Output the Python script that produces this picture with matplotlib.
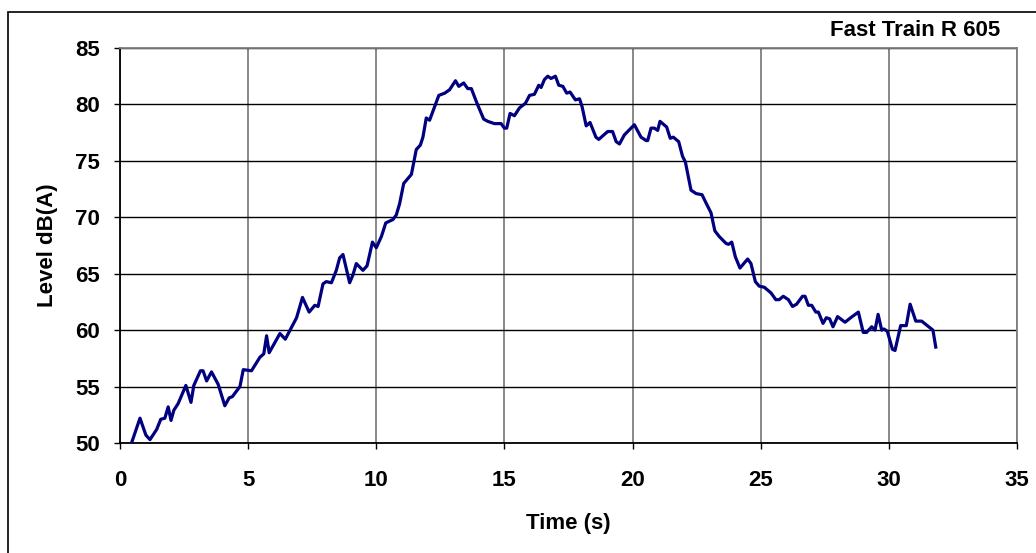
import matplotlib
matplotlib.use("Agg")
import matplotlib.pyplot as plt
from matplotlib.patches import Rectangle

plt.rcParams['font.family'] = ['Liberation Sans', 'DejaVu Sans']

# pass-by level of the fast train, sampled along the recording
time_s = [0.45, 0.78, 1.01, 1.17, 1.43, 1.59, 1.75, 1.88, 1.99, 2.10,
          2.27, 2.57, 2.77, 2.88, 3.14, 3.24, 3.38, 3.57, 3.83, 4.09,
          4.26, 4.38, 4.68, 4.81, 5.13, 5.46, 5.61, 5.72, 5.82, 6.24,
          6.45, 6.89, 7.12, 7.38, 7.60, 7.73, 7.92, 8.05, 8.25, 8.44,
          8.57, 8.70, 8.96, 9.09, 9.22, 9.48, 9.64, 9.85, 10.00, 10.20,
          10.37, 10.65, 10.78, 10.91, 11.07, 11.37, 11.56, 11.72, 11.82, 11.95,
          12.08, 12.31, 12.44, 12.67, 12.86, 13.09, 13.22, 13.41, 13.57, 13.71,
          13.93, 14.19, 14.35, 14.61, 14.87, 15.00, 15.09, 15.22, 15.39, 15.59,
          15.82, 15.98, 16.17, 16.34, 16.43, 16.56, 16.69, 16.82, 16.99, 17.12,
          17.28, 17.43, 17.56, 17.77, 17.93, 18.03, 18.19, 18.34, 18.57, 18.68,
          19.03, 19.22, 19.36, 19.49, 19.68, 20.07, 20.33, 20.53, 20.59, 20.72,
          20.85, 20.98, 21.07, 21.33, 21.47, 21.59, 21.80, 21.95, 22.06, 22.28,
          22.48, 22.71, 22.86, 23.06, 23.21, 23.38, 23.64, 23.74, 23.87, 24.01,
          24.19, 24.49, 24.62, 24.79, 24.94, 25.14, 25.40, 25.59, 25.72, 25.88,
          26.08, 26.24, 26.40, 26.63, 26.73, 26.86, 26.99, 27.15, 27.25, 27.43,
          27.56, 27.69, 27.82, 28.00, 28.29, 28.51, 28.81, 29.00, 29.13, 29.33,
          29.46, 29.58, 29.72, 29.81, 29.94, 30.14, 30.24, 30.46, 30.68, 30.83,
          31.05, 31.28, 31.50, 31.72, 31.83]
level_dba = [50.0, 52.2, 50.7, 50.3, 51.2, 52.1, 52.2, 53.2, 52.0, 52.9,
             53.5, 55.1, 53.6, 55.1, 56.4, 56.4, 55.5, 56.3, 55.2, 53.3,
             54.0, 54.1, 55.0, 56.5, 56.4, 57.6, 57.9, 59.5, 58.0, 59.7,
             59.2, 61.1, 62.9, 61.6, 62.2, 62.1, 64.1, 64.3, 64.2, 65.3,
             66.4, 66.7, 64.2, 64.9, 65.9, 65.3, 65.7, 67.8, 67.3, 68.3,
             69.5, 69.8, 70.2, 71.2, 73.0, 73.8, 76.0, 76.4, 77.1, 78.8,
             78.6, 80.0, 80.8, 81.0, 81.3, 82.1, 81.6, 81.9, 81.4, 81.4,
             80.1, 78.7, 78.5, 78.3, 78.3, 77.9, 77.9, 79.2, 79.0, 79.7,
             80.1, 80.8, 80.9, 81.7, 81.5, 82.2, 82.5, 82.3, 82.5, 81.7,
             81.6, 81.0, 81.1, 80.4, 80.5, 79.8, 78.1, 78.4, 77.1, 76.9,
             77.6, 77.6, 76.7, 76.5, 77.3, 78.2, 77.1, 76.8, 76.8, 77.9,
             77.9, 77.7, 78.5, 78.0, 77.0, 77.1, 76.7, 75.4, 74.9, 72.4,
             72.1, 72.0, 71.3, 70.4, 68.8, 68.3, 67.7, 67.6, 67.8, 66.5,
             65.5, 66.3, 65.9, 64.3, 63.9, 63.8, 63.3, 62.7, 62.7, 63.0,
             62.7, 62.1, 62.3, 63.0, 63.0, 62.2, 62.2, 61.6, 61.6, 60.6,
             61.1, 61.0, 60.3, 61.2, 60.7, 61.1, 61.6, 59.8, 59.8, 60.3,
             60.0, 61.4, 60.0, 60.1, 59.9, 58.3, 58.2, 60.4, 60.4, 62.3,
             60.8, 60.8, 60.4, 60.0, 58.5]

x_ticks = [0, 5, 10, 15, 20, 25, 30, 35]
y_ticks = [50, 55, 60, 65, 70, 75, 80, 85]

fig = plt.figure(figsize=(10.36, 5.53), dpi=100)
ax = fig.add_axes([120 / 1036, 1 - 443 / 553, 897 / 1036, 395 / 553])

ax.plot(time_s, level_dba, color='#000080', lw=2.3, zorder=3)

ax.set_xlim(0, 35)
ax.set_ylim(50, 85)
ax.set_xticks(x_ticks)
ax.set_yticks(y_ticks)

ax.grid(axis='y', color='black', lw=1.0, zorder=1)
ax.grid(axis='x', color='#7f7f7f', lw=1.3, zorder=1)
ax.set_axisbelow(True)

for side in ('top', 'right'):
    ax.spines[side].set_color('#7f7f7f')
    ax.spines[side].set_linewidth(1.3)
for side in ('left', 'bottom'):
    ax.spines[side].set_color('black')
    ax.spines[side].set_linewidth(1.3)

ax.tick_params(axis='both', direction='out', length=4.5, width=1.0,
               labelsize=16)
ax.tick_params(axis='y', pad=10)
ax.tick_params(axis='x', pad=15)
for lbl in ax.get_xticklabels() + ax.get_yticklabels():
    lbl.set_fontweight('bold')

ax.set_xlabel('Time (s)', fontsize=16, fontweight='bold', labelpad=16)
ax.set_ylabel('Level dB(A)', fontsize=16, fontweight='bold', labelpad=12)

fig.text(1000 / 1036, 1 - 31 / 553, 'Fast Train R 605', fontsize=16,
         fontweight='bold', ha='right', va='center')

# chart frame around the whole figure
fig.patches.append(Rectangle((7.5 / 1036, -0.1), 1.2, 1 - 12.5 / 553 + 0.1,
                             transform=fig.transFigure, fill=False,
                             edgecolor='black', lw=1.2))

fig.savefig('out.png', dpi=100)
